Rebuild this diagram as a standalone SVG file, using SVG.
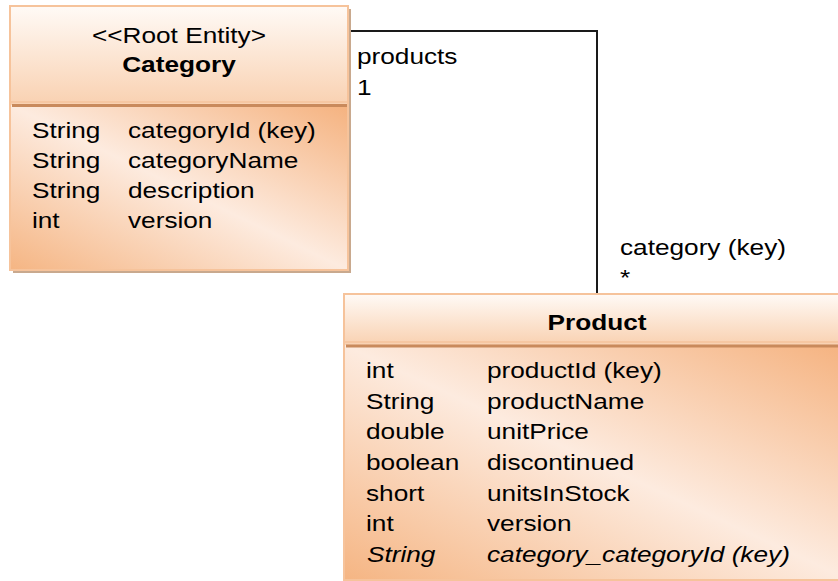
<svg xmlns="http://www.w3.org/2000/svg" width="838" height="581" viewBox="0 0 838 581">
  <style>
    text {
      font-family: "Liberation Sans", Arial, sans-serif; font-size: 22.8px; fill: #000;
      transform-box: fill-box; transform-origin: 0 0; transform: scaleX(1.15);
    }
    .title { font-weight: bold; text-anchor: middle; transform-origin: 50% 0; }
    .stereo { text-anchor: middle; transform-origin: 50% 0; }
    .derived { font-style: italic; }
    .frame { stroke: #f6c39b; stroke-width: 2; }
    .shadow { fill: #c9a98e; }
    .divider { stroke: #c98a5c; stroke-width: 3; }
    .divider-hi { stroke: #f6c7a2; stroke-width: 2; }
    .link { fill: none; stroke: #1a1a1a; stroke-width: 2; }
  </style>
  <defs>
    <linearGradient id="headFill" x1="0" y1="0" x2="0" y2="1">
      <stop offset="0" stop-color="#fffaf6"/>
      <stop offset="1" stop-color="#f9d1b1"/>
    </linearGradient>
    <linearGradient id="bodyFill" x1="1" y1="0" x2="0" y2="1">
      <stop offset="0" stop-color="#f5b27f"/>
      <stop offset="0.5" stop-color="#fdebdf"/>
      <stop offset="1" stop-color="#f5b583"/>
    </linearGradient>
  </defs>

  <rect width="838" height="581" fill="#ffffff"/>

  <!-- association line between the two entities -->
  <g id="connectors">
    <polyline class="link" points="348,31 597,31 597,293"/>
    <text x="357" y="64">products</text>
    <text x="357" y="95">1</text>
    <text x="620" y="255">category (key)</text>
    <text x="620" y="285">*</text>
  </g>

  <!-- root entity: Category -->
  <g id="category">
    <rect class="shadow" x="13" y="9" width="338" height="264"/>
    <rect x="10" y="6" width="338" height="99" fill="url(#headFill)"/>
    <rect x="10" y="105" width="338" height="165" fill="url(#bodyFill)"/>
    <rect class="frame" x="10" y="6" width="338" height="264" fill="none"/>
    <line class="divider-hi" x1="11" y1="102" x2="347" y2="102"/>
    <line class="divider" x1="12" y1="105.5" x2="347" y2="105.5"/>
    <text class="stereo" x="179" y="43">&lt;&lt;Root Entity&gt;</text>
    <text class="title" x="179" y="72">Category</text>
    <text x="32" y="138">String</text><text x="128" y="138">categoryId (key)</text>
    <text x="32" y="168">String</text><text x="128" y="168">categoryName</text>
    <text x="32" y="198">String</text><text x="128" y="198">description</text>
    <text x="32" y="228">int</text><text x="128" y="228">version</text>
  </g>

  <!-- entity: Product -->
  <g id="product">
    <rect x="344" y="294" width="506" height="51" fill="url(#headFill)"/>
    <rect x="344" y="345" width="506" height="235" fill="url(#bodyFill)"/>
    <rect class="frame" x="344" y="294" width="506" height="286" fill="none"/>
    <line class="divider-hi" x1="345" y1="342" x2="850" y2="342"/>
    <line class="divider" x1="346" y1="346" x2="850" y2="346"/>
    <text class="title" x="597" y="330">Product</text>
    <text x="366" y="378">int</text><text x="487" y="378">productId (key)</text>
    <text x="366" y="409">String</text><text x="487" y="409">productName</text>
    <text x="366" y="439">double</text><text x="487" y="439">unitPrice</text>
    <text x="366" y="470">boolean</text><text x="487" y="470">discontinued</text>
    <text x="366" y="501">short</text><text x="487" y="501">unitsInStock</text>
    <text x="366" y="531">int</text><text x="487" y="531">version</text>
    <text class="derived" x="367" y="562">String</text><text class="derived" x="487" y="562">category_categoryId (key)</text>
  </g>
</svg>
